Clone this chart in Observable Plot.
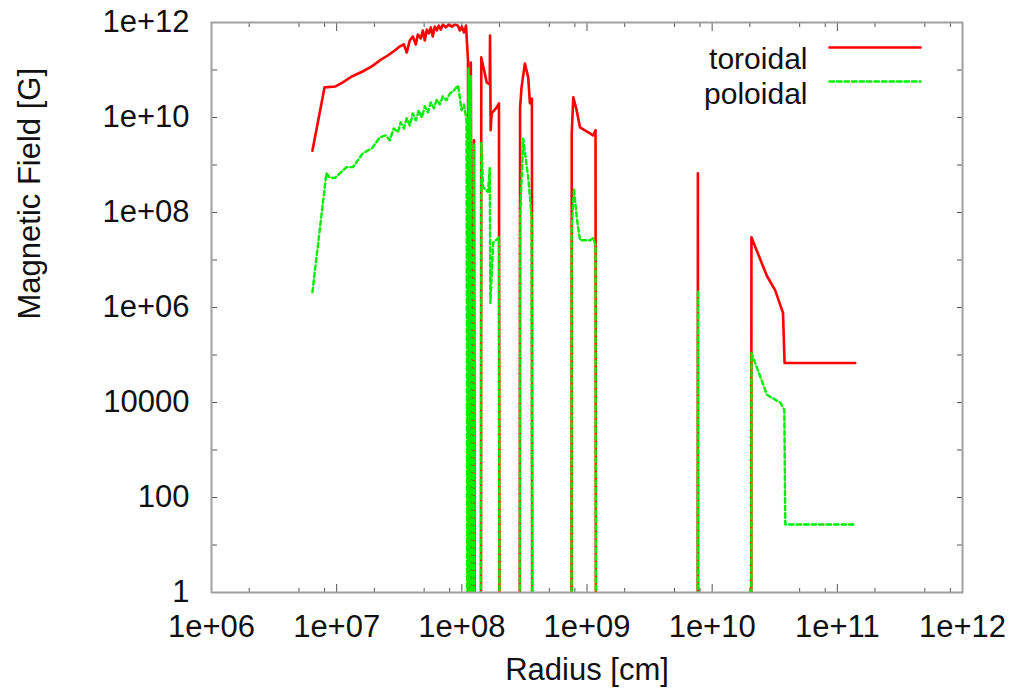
<!DOCTYPE html>
<html>
<head>
<meta charset="utf-8">
<script src="https://cdn.jsdelivr.net/npm/d3@7"></script>
<script src="https://cdn.jsdelivr.net/npm/@observablehq/plot@0.6"></script>
<style>
  html, body { margin: 0; padding: 0; background: #fff; }
</style>
</head>
<body>
<div id="chart"></div>
<script>
// ---- data ----
// 1e-3 marks points that fall below the plotted floor of 1 G (lines drop to the axis)
const toroidalRadius = [6.4e6, 8.0e6, 9.8e6, 1.12e7, 1.32e7, 1.61e7, 1.91e7, 2.21e7, 2.56e7, 2.91e7,
  3.19e7, 3.44e7, 3.63e7, 3.84e7, 4.06e7, 4.29e7, 4.45e7, 4.70e7, 4.88e7, 5.06e7,
  5.25e7, 5.45e7, 5.65e7, 5.86e7, 6.08e7, 6.31e7, 6.55e7, 6.79e7, 7.05e7, 7.45e7,
  7.87e7, 8.32e7, 8.79e7, 9.29e7, 9.64e7, 1.00e8, 1.04e8, 1.08e8, 1.12e8, 1.14e8,
  1.18e8, 1.21e8, 1.25e8, 1.27e8, 1.42e8, 1.43e8, 1.58e8, 1.67e8, 1.68e8, 1.70e8,
  1.73e8, 1.90e8, 1.98e8, 2.00e8, 2.90e8, 2.92e8, 3.00e8, 3.19e8, 3.39e8, 3.50e8,
  3.63e8, 3.65e8, 7.52e8, 7.55e8, 7.77e8, 8.27e8, 8.79e8, 1.12e9, 1.17e9, 1.18e9,
  7.66e9, 7.69e9, 7.72e9, 2.05e10, 2.06e10, 2.74e10, 3.19e10, 3.68e10, 3.79e10, 1.39e11];
const toroidalField = [2.0e9, 4.3e10, 4.5e10, 5.5e10, 7.3e10, 9.3e10, 1.19e11, 1.59e11, 2.02e11, 2.58e11,
  3.13e11, 3.45e11, 2.34e11, 4.19e11, 5.08e11, 3.45e11, 5.6e11, 4.61e11, 6.8e11, 4.19e11,
  7.1e11, 5.9e11, 7.9e11, 5.1e11, 8.2e11, 6.8e11, 8.6e11, 7.1e11, 9.1e11, 7.9e11,
  9.1e11, 8.2e11, 9.1e11, 8.6e11, 6.8e11, 8.2e11, 6.2e11, 8.6e11, 1.59e11, 1e-3,
  1.44e11, 1e-3, 3.3e9, 1e-3, 1e-3, 1.84e11, 5.5e10, 5.0e10, 5.3e11, 5.4e9,
  1.22e10, 1.64e10, 1.99e10, 1e-3, 1e-3, 1.64e10, 4.3e10, 1.37e11, 7.0e10, 1.99e10,
  2.5e10, 1e-3, 1e-3, 4.6e9, 2.65e10, 1.41e10, 6.2e9, 4.2e9, 5.4e9, 1e-3,
  1e-3, 6.7e8, 1e-3, 1e-3, 3.0e7, 4.6e6, 2.3e6, 7.7e5, 6.8e4, 6.8e4];

const poloidalRadius = [6.4e6, 8.28e6, 8.79e6, 9.64e6, 1.20e7, 1.35e7, 1.62e7, 1.91e7, 2.21e7, 2.47e7,
  2.65e7, 2.86e7, 3.08e7, 3.25e7, 3.44e7, 3.63e7, 3.84e7, 4.06e7, 4.29e7, 4.53e7,
  4.79e7, 5.06e7, 5.35e7, 5.65e7, 5.97e7, 6.31e7, 6.67e7, 7.05e7, 7.55e7, 8.02e7,
  8.63e7, 9.34e7, 9.95e7, 1.04e8, 1.09e8, 1.11e8, 1.13e8, 1.15e8, 1.18e8, 1.21e8,
  1.25e8, 1.27e8, 1.42e8, 1.43e8, 1.48e8, 1.62e8, 1.67e8, 1.69e8, 1.78e8, 1.98e8,
  2.00e8, 2.90e8, 2.92e8, 3.09e8, 3.39e8, 3.61e8, 3.65e8, 7.52e8, 7.55e8, 7.87e8,
  8.27e8, 8.79e8, 1.06e9, 1.12e9, 1.17e9, 1.18e9, 7.66e9, 7.69e9, 7.72e9, 2.05e10,
  2.06e10, 2.74e10, 3.50e10, 3.77e10, 3.84e10, 1.34e11];
const poloidalField = [2.1e6, 6.7e8, 5.5e8, 5.3e8, 9.0e8, 9.0e8, 1.77e9, 2.25e9, 3.8e9, 4.2e9,
  3.3e9, 5.9e9, 4.9e9, 7.9e9, 5.9e9, 9.6e9, 6.8e9, 1.22e10, 8.7e9, 1.41e10,
  1.0e10, 1.72e10, 1.28e10, 2.08e10, 1.56e10, 2.41e10, 1.89e10, 2.79e10, 2.3e10, 3.2e10,
  3.7e10, 4.7e10, 1.41e10, 1.89e10, 8.7e9, 1e-3, 1.08e11, 1e-3, 7.7e10, 1e-3,
  2.9e9, 1e-3, 1e-3, 2.9e9, 3.4e8, 2.7e8, 8.6e8, 1.24e6, 2.3e7, 3.0e7,
  1e-3, 1e-3, 8.0e7, 3.6e9, 5.5e8, 8.0e7, 1e-3, 1e-3, 4.9e7, 3.2e8,
  8.0e7, 2.6e7, 2.6e7, 2.9e7, 2.06e7, 1e-3, 1e-3, 2.3e6, 1e-3, 1e-3,
  1.1e5, 1.45e4, 1.0e4, 7.0e3, 27, 27];

const seriesNames = ["toroidal", "poloidal"];
const xMajorTicks = [1e6, 1e7, 1e8, 1e9, 1e10, 1e11, 1e12];
const xTickLabels = ["1e+06", "1e+07", "1e+08", "1e+09", "1e+10", "1e+11", "1e+12"];
const xMinorTicks = [2e6, 5e6, 8e6, 2e7, 5e7, 8e7, 2e8, 5e8, 8e8, 2e9, 5e9, 8e9, 2e10, 5e10, 8e10, 2e11, 5e11, 8e11];
const yMajorTicks = [1, 1e1, 1e2, 1e3, 1e4, 1e5, 1e6, 1e7, 1e8, 1e9, 1e10, 1e11, 1e12];
const yLabelTicks = [1, 1e2, 1e4, 1e6, 1e8, 1e10, 1e12];
const yTickLabels = ["1", "100", "10000", "1e+06", "1e+08", "1e+10", "1e+12"];
const xAxisTitle = "Radius [cm]";
const yAxisTitle = "Magnetic Field [G]";

// ---- tables ----
const toroidal = toroidalRadius.map((r, i) => ({r, b: toroidalField[i]}));
const poloidal = poloidalRadius.map((r, i) => ({r, b: poloidalField[i]}));

const RED = "#ff0000";
const GREEN = "#00ee00";
const TICK = "#555";
const FONT = 31;
const LEGEND_FONT = 30;
const hLine = {draw(context, l) { context.moveTo(0, 0); context.lineTo(0, -l); }};

const chart = Plot.plot({
  width: 1017,
  height: 696,
  marginLeft: 211,
  marginRight: 55,
  marginTop: 22,
  marginBottom: 104,
  style: {fontFamily: "'Liberation Sans', Arial, Helvetica, sans-serif", fontSize: FONT + "px", background: "#fff", color: "#111"},
  x: {type: "log", domain: [1e6, 1e12]},
  y: {type: "log", domain: [1, 1e12]},
  marks: [
    // inward ticks on all four sides
    Plot.axisX(xMajorTicks, {anchor: "bottom", tickSize: -8, tickFormat: () => "", stroke: TICK, label: null}),
    Plot.axisX(xMajorTicks, {anchor: "top", tickSize: -8, tickFormat: () => "", stroke: TICK, label: null}),
    Plot.axisX(xMinorTicks, {anchor: "bottom", tickSize: -4, tickFormat: () => "", stroke: TICK, label: null}),
    Plot.axisX(xMinorTicks, {anchor: "top", tickSize: -4, tickFormat: () => "", stroke: TICK, label: null}),
    Plot.axisY(yMajorTicks, {anchor: "left", tickSize: -6, tickFormat: () => "", stroke: TICK, label: null}),
    Plot.axisY(yMajorTicks, {anchor: "right", tickSize: -6, tickFormat: () => "", stroke: TICK, label: null}),
    // tick labels
    Plot.axisX(xMajorTicks, {anchor: "bottom", tickSize: 0, tickPadding: 22, fontSize: FONT,
      tickFormat: (d) => xTickLabels[xMajorTicks.indexOf(d)], label: null}),
    Plot.axisY(yLabelTicks, {anchor: "left", tickSize: 0, tickPadding: 22, fontSize: FONT,
      tickFormat: (d) => yTickLabels[yLabelTicks.indexOf(d)], label: null}),
    // data
    Plot.line(toroidal, {x: "r", y: "b", stroke: RED, strokeWidth: 2.6, clip: true}),
    Plot.line(poloidal, {x: "r", y: "b", stroke: GREEN, strokeWidth: 2.4, strokeDasharray: "4.5,3", clip: true}),
    // frame
    Plot.frame({stroke: "#a0a0a0", strokeWidth: 2}),
    // axis titles
    Plot.text([xAxisTitle], {frameAnchor: "bottom", dy: 87, fontSize: FONT, fill: "#111"}),
    Plot.text([yAxisTitle], {frameAnchor: "left", dx: -181, dy: 12, rotate: -90, fontSize: FONT, fill: "#111"}),
    // legend (inside the frame, top right)
    Plot.text([seriesNames[0]], {frameAnchor: "top-right", dx: -155, dy: 25, textAnchor: "end", fontSize: LEGEND_FONT, fill: "#111"}),
    Plot.text([seriesNames[1]], {frameAnchor: "top-right", dx: -155, dy: 60, textAnchor: "end", fontSize: LEGEND_FONT, fill: "#111"}),
    Plot.vector([seriesNames[0]], {frameAnchor: "top-right", dx: -133, dy: 25, length: 91, rotate: 90, anchor: "start",
      shape: hLine, stroke: RED, strokeWidth: 2.6}),
    Plot.vector([seriesNames[1]], {frameAnchor: "top-right", dx: -133, dy: 59, length: 91, rotate: 90, anchor: "start",
      shape: hLine, stroke: GREEN, strokeWidth: 2.4, strokeDasharray: "4.5,3"})
  ]
});
document.getElementById("chart").appendChild(chart);
</script>
</body>
</html>
